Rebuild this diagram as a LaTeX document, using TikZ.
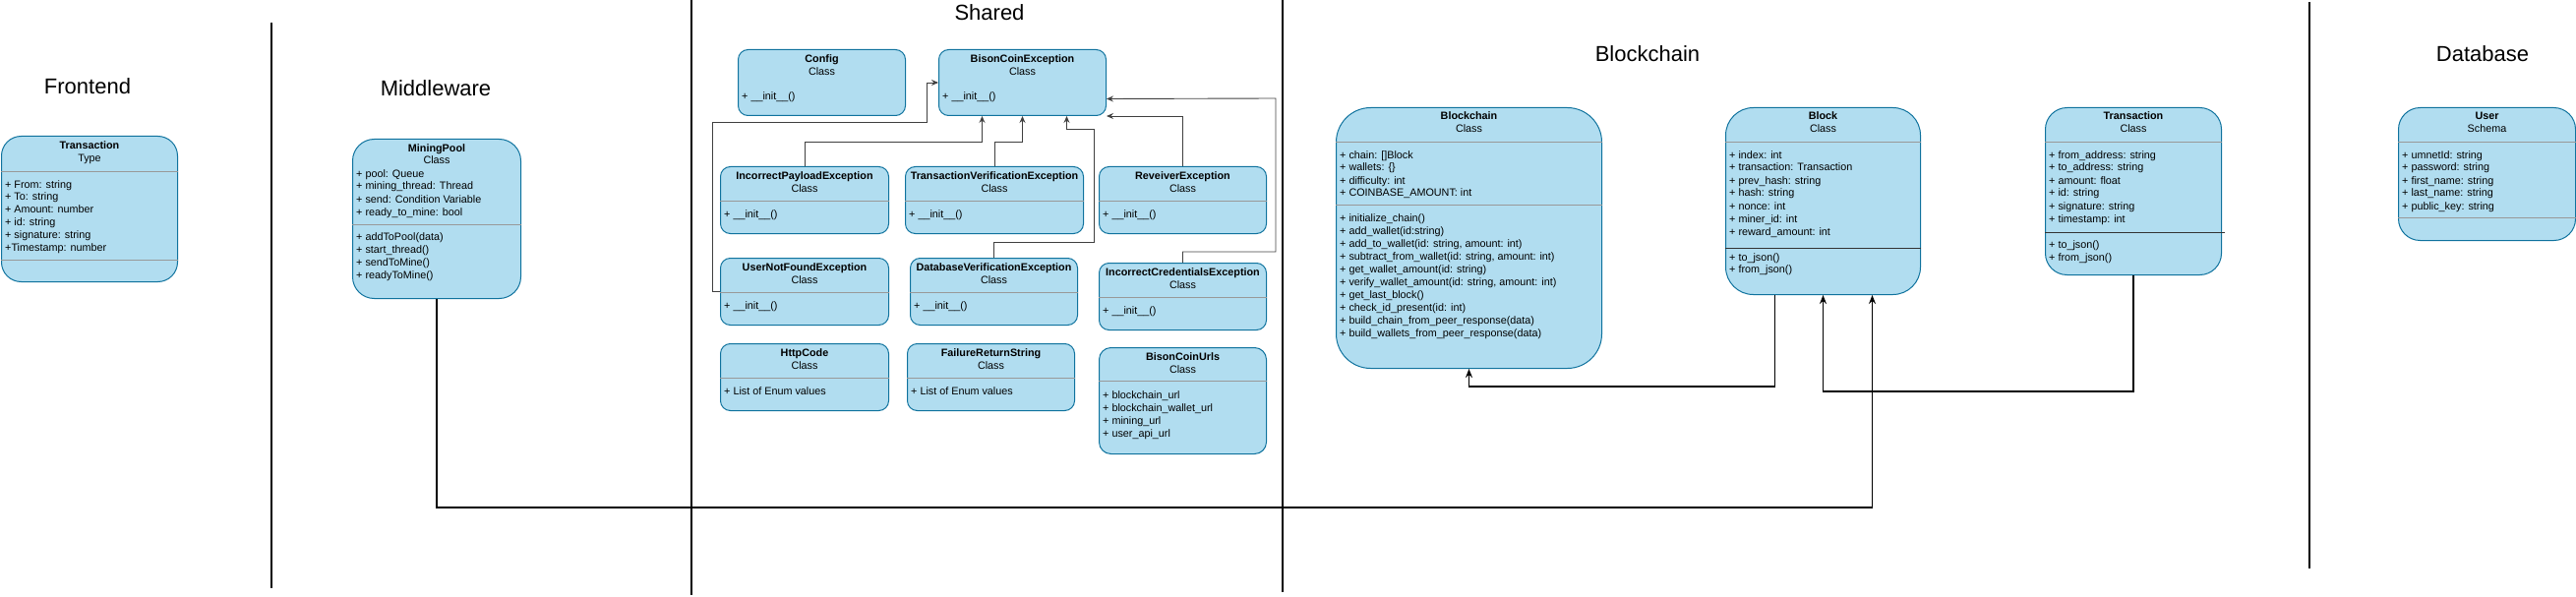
\documentclass[tikz,border=0pt]{standalone}
\usepackage{fontspec}
\setmainfont{Liberation Sans}
\usetikzlibrary{arrows.meta}
\definecolor{boxfill}{HTML}{B1DDF0}
\definecolor{boxline}{HTML}{10739E}
\begin{document}
\begin{tikzpicture}[
    x=1pt, y=-1pt,
    box/.style={draw=boxline, fill=boxfill, line width=1pt, rounded corners=#1, anchor=north west, inner sep=0pt},
    box/.default=10,
    title/.style={font=\fontsize{22}{26}\selectfont, anchor=base, inner sep=0pt},
    cname/.style={font=\fontsize{10.8}{13}\selectfont\bfseries, anchor=base, inner sep=0pt},
    ckind/.style={font=\fontsize{10.8}{13}\selectfont, anchor=base, inner sep=0pt},
    member/.style={font=\fontsize{10.8}{13}\selectfont, anchor=base west, inner sep=0pt},
    sep/.style={draw=black!40, line width=0.8pt},
    sepdark/.style={draw=black!80, line width=1pt},
    wall/.style={line width=1.5pt},
    link/.style={draw=black!75, line width=0.9pt, -{Stealth[length=7pt,width=6pt,inset=2.5pt]}},
    feed/.style={line width=1.5pt, -{Stealth[length=9pt,width=7pt,inset=3pt]}}
  ]
  \useasboundingbox (0,0) rectangle (2619,607);

  \node[title] (frontend) at (89,96) {Frontend};
  \node[title] (middleware) at (443,98) {Middleware};
  \node[title] (shared) at (1006,21) {Shared};
  \node[title] (blockchain) at (1675,63) {Blockchain};
  \node[title] (database) at (2524,63) {Database};

  \draw[wall] (276,23) -- (276,598);
  \draw[wall] (703,0) -- (703,605);
  \draw[wall] (1304,0) -- (1304,602);
  \draw[wall] (2348,2) -- (2348,578);

  \node[box=20, minimum width=179pt, minimum height=148pt] (ttype) at (1,138) {};
  \node[cname] (ttype-t) at ([yshift=-13.5pt]ttype.north) {Transaction};
  \node[ckind] (ttype-k) at ([yshift=-26.5pt]ttype.north) {Type};
  \draw[sep] ([yshift=-36pt]ttype.north west) -- ([yshift=-36pt]ttype.north east);
  \draw[sep] ([yshift=-126pt]ttype.north west) -- ([yshift=-126pt]ttype.north east);
  \foreach \m [count=\i from 0] in {+ From: string, + To: string, + Amount: number, + id: string, + signature: string, +Timestamp: number}
    \node[member] (ttype-a\i) at ([xshift=4pt,yshift=-53-12.9*\i]ttype.north west) {\m};

  \node[box=22, minimum width=171pt, minimum height=162pt] (mpool) at (358,141) {};
  \node[cname] (mpool-t) at ([yshift=-13pt]mpool.north) {MiningPool};
  \node[ckind] (mpool-k) at ([yshift=-26pt]mpool.north) {Class};
  \draw[sep] ([yshift=-87pt]mpool.north west) -- ([yshift=-87pt]mpool.north east);
  \foreach \m [count=\i from 0] in {+ pool: Queue, + mining\_thread: Thread, + send: Condition Variable, + ready\_to\_mine: bool}
    \node[member] (mpool-a\i) at ([xshift=4pt,yshift=-39-13*\i]mpool.north west) {\m};
  \foreach \m [count=\i from 0] in {+ addToPool(data), + start\_thread(), + sendToMine(), + readyToMine()}
    \node[member] (mpool-m\i) at ([xshift=4pt,yshift=-103-13*\i]mpool.north west) {\m};

  \foreach \n/\x/\t in {config/750/Config, bce/954/BisonCoinException} {
    \node[box, minimum width=170pt, minimum height=67pt] (\n) at (\x,50) {};
    \node[cname] (\n-t) at ([yshift=-13.5pt]\n.north) {\t};
    \node[ckind] (\n-k) at ([yshift=-26.5pt]\n.north) {Class};
    \node[member] (\n-m) at ([xshift=4pt,yshift=-52pt]\n.north west) {+ \_\_init\_\_()};
  }

  \foreach \n/\x/\y/\w/\t/\m in {
      ipe/732/169/171/IncorrectPayloadException/+ \_\_init\_\_(),
      tve/920/169/181/TransactionVerificationException/+ \_\_init\_\_(),
      rve/1117/169/170/ReveiverException/+ \_\_init\_\_(),
      unf/732/262/171/UserNotFoundException/+ \_\_init\_\_(),
      dve/925/262/170/DatabaseVerificationException/+ \_\_init\_\_(),
      ice/1117/267/170/IncorrectCredentialsException/+ \_\_init\_\_(),
      http/732/349/171/HttpCode/+ List of Enum values,
      frs/922/349/170/FailureReturnString/+ List of Enum values} {
    \node[box, minimum width=\w*1pt, minimum height=68pt] (\n) at (\x,\y) {};
    \node[cname] (\n-t) at ([yshift=-13.5pt]\n.north) {\t};
    \node[ckind] (\n-k) at ([yshift=-26.5pt]\n.north) {Class};
    \draw[sep] ([yshift=-35pt]\n.north west) -- ([yshift=-35pt]\n.north east);
    \node[member] (\n-m) at ([xshift=4pt,yshift=-52.5pt]\n.north west) {\m};
  }

  \node[box=12, minimum width=170pt, minimum height=108pt] (urls) at (1117,353) {};
  \node[cname] (urls-t) at ([yshift=-13pt]urls.north) {BisonCoinUrls};
  \node[ckind] (urls-k) at ([yshift=-26pt]urls.north) {Class};
  \draw[sep] ([yshift=-34pt]urls.north west) -- ([yshift=-34pt]urls.north east);
  \foreach \m [count=\i from 0] in {+ blockchain\_url, + blockchain\_wallet\_url, + mining\_url, + user\_api\_url}
    \node[member] (urls-a\i) at ([xshift=4pt,yshift=-52-13*\i]urls.north west) {\m};

  \node[box=35, minimum width=270pt, minimum height=265pt] (bchain) at (1358,109) {};
  \node[cname] (bchain-t) at ([yshift=-13pt]bchain.north) {Blockchain};
  \node[ckind] (bchain-k) at ([yshift=-26pt]bchain.north) {Class};
  \draw[sep] ([yshift=-35pt]bchain.north west) -- ([yshift=-35pt]bchain.north east);
  \draw[sep] ([yshift=-99pt]bchain.north west) -- ([yshift=-99pt]bchain.north east);
  \foreach \m [count=\i from 0] in {+ chain: []Block, + wallets: \{\}, + difficulty: int, + COINBASE\_AMOUNT: int}
    \node[member] (bchain-a\i) at ([xshift=4pt,yshift=-52-13*\i]bchain.north west) {\m};
  \foreach \m [count=\i from 0] in {+ initialize\_chain(), + add\_wallet(id:string),
      {+ add\_to\_wallet(id: string, amount: int)}, {+ subtract\_from\_wallet(id: string, amount: int)},
      + get\_wallet\_amount(id: string), {+ verify\_wallet\_amount(id: string, amount: int)},
      + get\_last\_block(), + check\_id\_present(id: int),
      + build\_chain\_from\_peer\_response(data), + build\_wallets\_from\_peer\_response(data)}
    \node[member] (bchain-m\i) at ([xshift=4pt,yshift=-116-13*\i]bchain.north west) {\m};

  \node[box=28, minimum width=198pt, minimum height=190pt] (block) at (1754,109) {};
  \node[cname] (block-t) at ([yshift=-13pt]block.north) {Block};
  \node[ckind] (block-k) at ([yshift=-26pt]block.north) {Class};
  \draw[sep] ([yshift=-35pt]block.north west) -- ([yshift=-35pt]block.north east);
  \draw[sepdark] ([yshift=-143pt]block.north west) -- ([yshift=-143pt]block.north east);
  \foreach \m [count=\i from 0] in {+ index: int, + transaction: Transaction, + prev\_hash: string, + hash: string, + nonce: int, + miner\_id: int, + reward\_amount: int}
    \node[member] (block-a\i) at ([xshift=4pt,yshift=-52-13*\i]block.north west) {\m};
  \foreach \m [count=\i from 0] in {+ to\_json(), + from\_json()}
    \node[member] (block-m\i) at ([xshift=4pt,yshift=-156-12*\i]block.north west) {\m};

  \node[box=22, minimum width=179pt, minimum height=170pt] (tclass) at (2079,109) {};
  \node[cname] (tclass-t) at ([yshift=-13pt]tclass.north) {Transaction};
  \node[ckind] (tclass-k) at ([yshift=-26pt]tclass.north) {Class};
  \draw[sep] ([yshift=-35pt]tclass.north west) -- ([yshift=-35pt]tclass.north east);
  \draw[sepdark] ([yshift=-127pt]tclass.north west) -- ([xshift=3pt,yshift=-127pt]tclass.north east);
  \foreach \m [count=\i from 0] in {+ from\_address: string, + to\_address: string, + amount: float, + id: string, + signature: string, + timestamp: int}
    \node[member] (tclass-a\i) at ([xshift=4pt,yshift=-52-13*\i]tclass.north west) {\m};
  \foreach \m [count=\i from 0] in {+ to\_json(), + from\_json()}
    \node[member] (tclass-m\i) at ([xshift=4pt,yshift=-143.5-13*\i]tclass.north west) {\m};

  \node[box=22, minimum width=180pt, minimum height=135pt] (user) at (2438,109) {};
  \node[cname] (user-t) at ([yshift=-13pt]user.north) {User};
  \node[ckind] (user-k) at ([yshift=-26pt]user.north) {Schema};
  \draw[sep] ([yshift=-35pt]user.north west) -- ([yshift=-35pt]user.north east);
  \draw[sep] ([yshift=-112pt]user.north west) -- ([yshift=-112pt]user.north east);
  \foreach \m [count=\i from 0] in {+ umnetId: string, + password: string, + first\_name: string, + last\_name: string, + public\_key: string}
    \node[member] (user-a\i) at ([xshift=4pt,yshift=-52-13*\i]user.north west) {\m};

  \draw[link] (unf.west) -- ++(-8,0) |- (942,124) |- (bce.west);
  \draw[link] (ipe.north) -- ++(0,-25) -| ([xshift=-41pt]bce.south);
  \draw[link] (tve.north) -- ++(0,-25) -| (bce.south);
  \draw[link] (dve.north) -- ++(0,-16) -| (1112,131) -| ([xshift=45pt]bce.south);
  \draw[link] (rve.north) |- (bce.south east);
  \draw[link] (ice.north) -- ++(0,-11) -| (1297,100) -- ([yshift=-16.5pt]bce.east);

  \draw[feed] (mpool.south) -- ++(0,212) -| ([xshift=50pt]block.south);
  \draw[feed] ([xshift=-49pt]block.south) -- ++(0,93) -| (bchain.south);
  \draw[feed] (tclass.south) -- ++(0,118) -| (block.south);
\end{tikzpicture}
\end{document}
